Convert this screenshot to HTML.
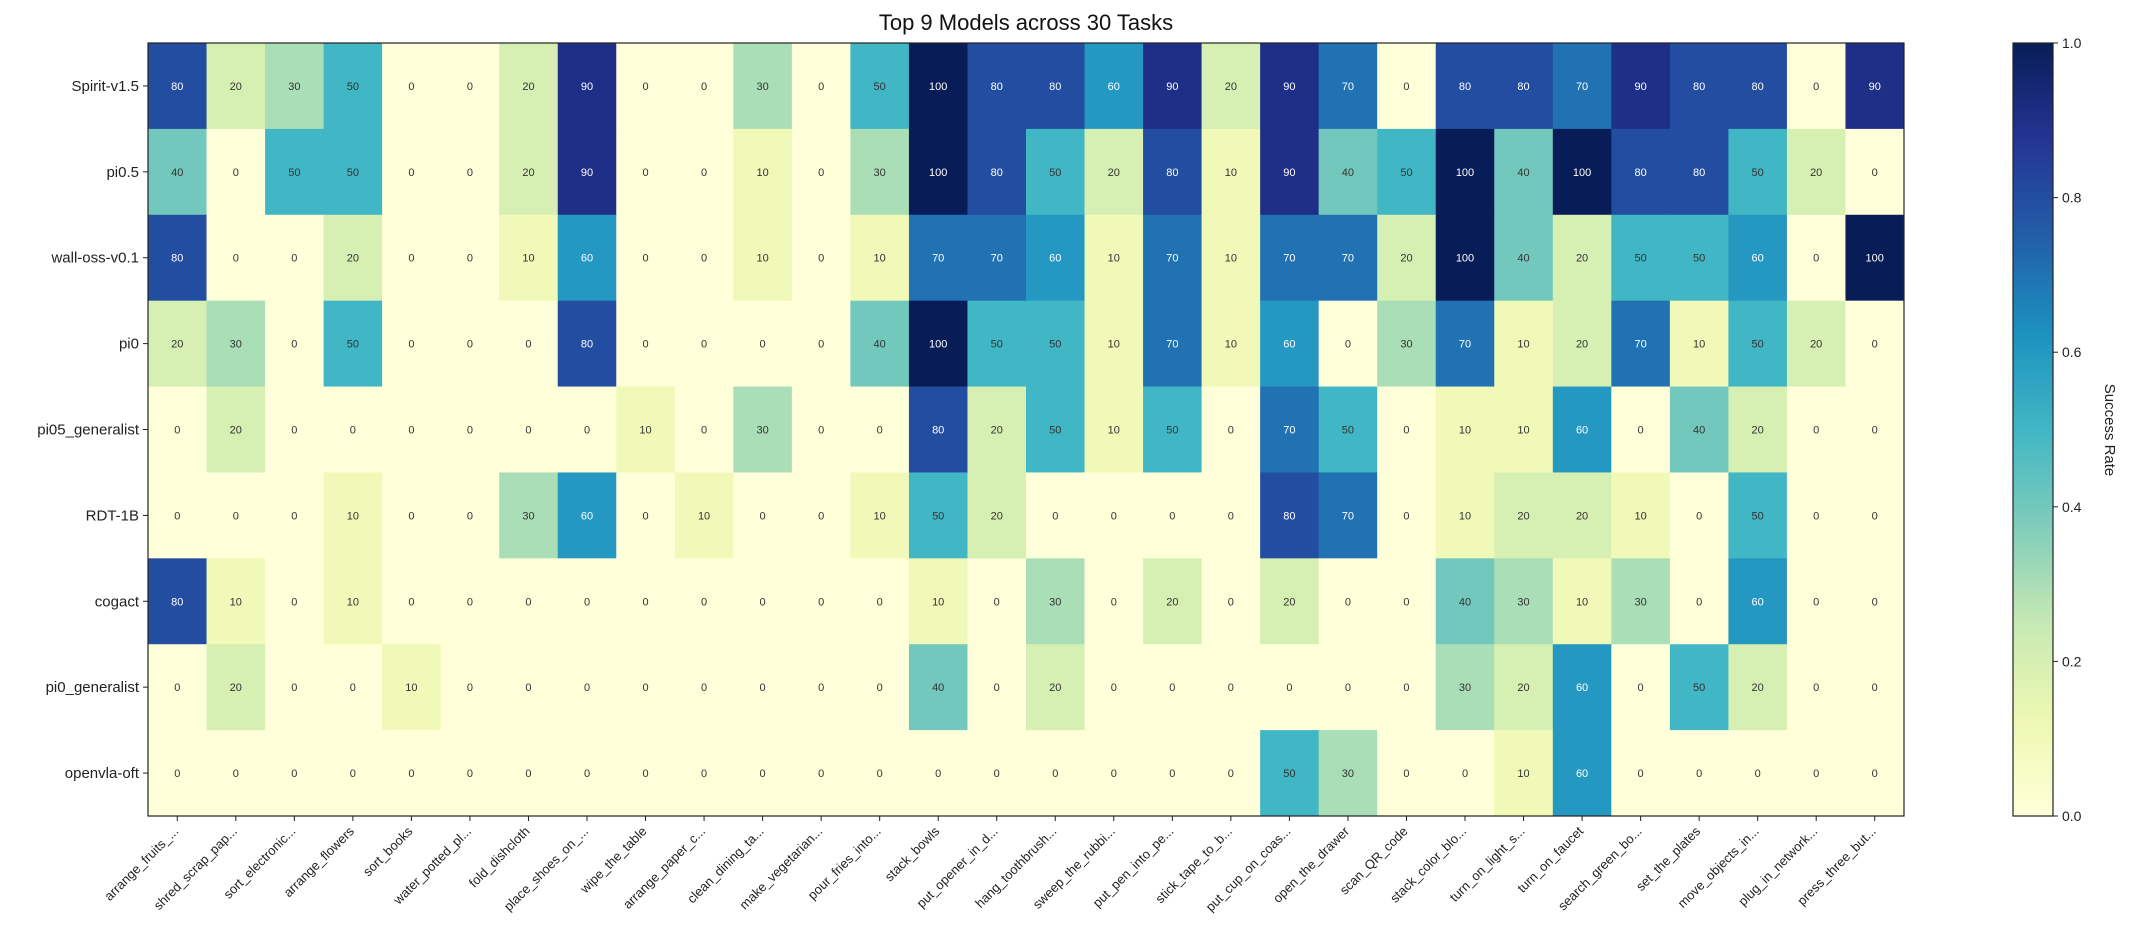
<!DOCTYPE html>
<html><head><meta charset="utf-8">
<style>
html,body{margin:0;padding:0;background:#fff;}
svg{display:block;font-family:"Liberation Sans",Arial,sans-serif;}
</style></head>
<body>
<svg id="chart" width="2135" height="936" viewBox="0 0 2135 936" xmlns="http://www.w3.org/2000/svg">
<rect width="2135" height="936" fill="#fff"/>
<text x="1026" y="30" text-anchor="middle" font-size="22" fill="#111">Top 9 Models across 30 Tasks</text>
<g id="cells"></g>
<g id="labels"></g>
<defs>
<linearGradient id="cbgrad" x1="0" y1="1" x2="0" y2="0">
<stop offset="0" stop-color="#ffffd9"/><stop offset="0.125" stop-color="#edf8b1"/>
<stop offset="0.25" stop-color="#c7e9b4"/><stop offset="0.375" stop-color="#7fcdbb"/>
<stop offset="0.5" stop-color="#41b6c4"/><stop offset="0.625" stop-color="#1d91c0"/>
<stop offset="0.75" stop-color="#225ea8"/><stop offset="0.875" stop-color="#253494"/>
<stop offset="1" stop-color="#081d58"/>
</linearGradient>
</defs>
<rect x="2013" y="43" width="40" height="773" fill="url(#cbgrad)" stroke="#222" stroke-width="1.2"/>
<g id="cbticks"></g>
<text x="2105" y="430" font-size="15" fill="#222" text-anchor="middle" transform="rotate(90 2105 430)">Success Rate</text>
</svg>
<script>
const models = ["Spirit-v1.5","pi0.5","wall-oss-v0.1","pi0","pi05_generalist","RDT-1B","cogact","pi0_generalist","openvla-oft"];
const tasks = ["arrange_fruits_...","shred_scrap_pap...","sort_electronic...","arrange_flowers","sort_books","water_potted_pl...","fold_dishcloth","place_shoes_on_...","wipe_the_table","arrange_paper_c...","clean_dining_ta...","make_vegetarian...","pour_fries_into...","stack_bowls","put_opener_in_d...","hang_toothbrush...","sweep_the_rubbi...","put_pen_into_pe...","stick_tape_to_b...","put_cup_on_coas...","open_the_drawer","scan_QR_code","stack_color_blo...","turn_on_light_s...","turn_on_faucet","search_green_bo...","set_the_plates","move_objects_in...","plug_in_network...","press_three_but..."];
const spiritV15 = [80,20,30,50,0,0,20,90,0,0,30,0,50,100,80,80,60,90,20,90,70,0,80,80,70,90,80,80,0,90];
const pi05 = [40,0,50,50,0,0,20,90,0,0,10,0,30,100,80,50,20,80,10,90,40,50,100,40,100,80,80,50,20,0];
const wallOss = [80,0,0,20,0,0,10,60,0,0,10,0,10,70,70,60,10,70,10,70,70,20,100,40,20,50,50,60,0,100];
const pi0 = [20,30,0,50,0,0,0,80,0,0,0,0,40,100,50,50,10,70,10,60,0,30,70,10,20,70,10,50,20,0];
const pi05Generalist = [0,20,0,0,0,0,0,0,10,0,30,0,0,80,20,50,10,50,0,70,50,0,10,10,60,0,40,20,0,0];
const rdt1b = [0,0,0,10,0,0,30,60,0,10,0,0,10,50,20,0,0,0,0,80,70,0,10,20,20,10,0,50,0,0];
const cogact = [80,10,0,10,0,0,0,0,0,0,0,0,0,10,0,30,0,20,0,20,0,0,40,30,10,30,0,60,0,0];
const pi0Generalist = [0,20,0,0,10,0,0,0,0,0,0,0,0,40,0,20,0,0,0,0,0,0,30,20,60,0,50,20,0,0];
const openvlaOft = [0,0,0,0,0,0,0,0,0,0,0,0,0,0,0,0,0,0,0,50,30,0,0,10,60,0,0,0,0,0];
const cbTicks = [0,0.2,0.4,0.6,0.8,1.0];

const series = [spiritV15,pi05,wallOss,pi0,pi05Generalist,rdt1b,cogact,pi0Generalist,openvlaOft];
const NS="http://www.w3.org/2000/svg";
const X0=148,X1=1904,Y0=43,Y1=816;
const cw=(X1-X0)/tasks.length, rh=(Y1-Y0)/models.length;
const xAt=i=>X0+i*cw, yAt=j=>Y0+j*rh;
const stops=[[255,255,217],[237,248,177],[199,233,180],[127,205,187],[65,182,196],[29,145,192],[34,94,168],[37,52,148],[8,29,88]];
function color(v){const t=Math.max(0,Math.min(1,v))*8;const i=Math.min(7,Math.floor(t));const f=t-i;const a=stops[i],b=stops[i+1];return `rgb(${a.map((c,k)=>Math.round(c+(b[k]-c)*f)).join(',')})`;}
function mk(tag,attrs,parent){const e=document.createElementNS(NS,tag);for(const k in attrs)e.setAttribute(k,attrs[k]);parent.appendChild(e);return e;}
const cells=document.getElementById('cells'), labels=document.getElementById('labels');
series.forEach((row,j)=>{row.forEach((v,i)=>{
  const r=mk('rect',{x:xAt(i),y:yAt(j),width:cw+0.5,height:rh+0.5,fill:color(v/100)},cells);
  
  
  const t=mk('text',{x:xAt(i)+cw/2,y:yAt(j)+rh/2+4,'text-anchor':'middle','font-size':11,fill:v>=60?'#fff':'#333'},cells);
  t.textContent=v;
  
  
});});
const frame=mk('rect',{x:X0,y:Y0,width:X1-X0,height:Y1-Y0,fill:'none',stroke:'#222','stroke-width':1.2},labels);


models.forEach((m,j)=>{
  const y=yAt(j)+rh/2;
  mk('line',{x1:X0-5,x2:X0,y1:y,y2:y,stroke:'#222'},labels);
  const t=mk('text',{x:X0-9,y:y+5,'text-anchor':'end','font-size':15,fill:'#222'},labels);
  t.textContent=m;
  
  
});
tasks.forEach((s,i)=>{
  const x=xAt(i)+cw/2;
  mk('line',{x1:x,x2:x,y1:Y1,y2:Y1+5,stroke:'#222'},labels);
  const t=mk('text',{x:x+2,y:Y1+16,'text-anchor':'end','font-size':13,fill:'#222',transform:`rotate(-45 ${x+2} ${Y1+16})`},labels);
  t.textContent=s;
  
  
});
const cbg=document.getElementById('cbticks');
cbTicks.forEach(v=>{
  const y=Y1-v*(Y1-Y0);
  mk('line',{x1:2053,x2:2058,y1:y,y2:y,stroke:'#222'},cbg);
  const t=mk('text',{x:2062,y:y+5,'font-size':14,fill:'#222'},cbg);
  t.textContent=v.toFixed(1);
  
  
});
</script>
</body></html>
